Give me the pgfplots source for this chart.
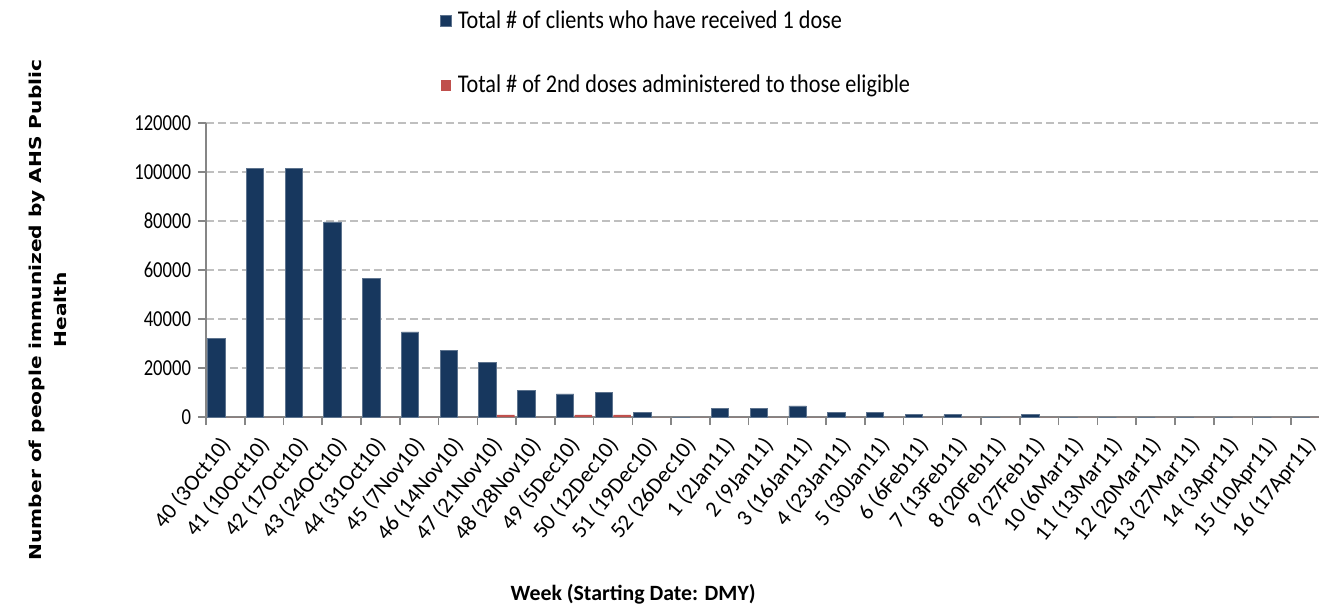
\documentclass[border=0pt]{standalone}
\usepackage{pgfplots}
\pgfplotsset{compat=1.18}
\usepackage{fontspec}
\setmainfont{Carlito}
\newfontfamily\ylabfont{DejaVu Sans}
\definecolor{navy}{HTML}{17375E}
\definecolor{redb}{HTML}{C0504D}
\definecolor{axgray}{HTML}{868686}
\begin{document}
\begin{tikzpicture}
\begin{axis}[
  scale only axis,
  width=562pt, height=147pt,
  ybar, bar width=0.45,
  xmin=-0.5, xmax=28.5,
  ymin=0, ymax=120000,
  scaled y ticks=false,
  ytick={0,20000,40000,60000,80000,100000,120000},
  yticklabels={0,20000,40000,60000,80000,100000,120000},
  yticklabel style={font=\fontsize{9.3}{11}\selectfont, yscale=1.23},
  xtick={0,...,28},
  xticklabels={40 (3Oct10),41 (10Oct10),42 (17Oct10),43 (24OCt10),44 (31Oct10),45 (7Nov10),46 (14Nov10),47 (21Nov10),48 (28Nov10),49 (5Dec10),50 (12Dec10),51 (19Dec10),52 (26Dec10),1 (2Jan11),2 (9Jan11),3 (16Jan11),4 (23Jan11),5 (30Jan11),6 (6Feb11),7 (13Feb11),8 (20Feb11),9 (27Feb11),10 (6Mar11),11 (13Mar11),12 (20Mar11),13 (27Mar11),14 (3Apr11),15 (10Apr11),16 (17Apr11)},
  xticklabel style={xshift=-3.5pt, yshift=-3.5pt, rotate=51, anchor=north east, font=\fontsize{11.2}{12}\selectfont, inner sep=1pt},
  minor xtick={-0.5,0.5,...,28.5},
  major x tick style={draw=none},
  minor x tick style={axgray, line width=0.8pt},
  minor tick length=4pt,
  y tick style={axgray, line width=0.8pt},
  major tick length=4pt,
  tick align=outside,
  axis x line*=bottom, axis y line*=left,
  axis line style={axgray, line width=0.8pt, -},
  ymajorgrids,
  major grid style={black!25, dash pattern=on 4pt off 2pt, line width=0.9pt},
  xlabel={Week (Starting Date: DMY)},
  xlabel style={font=\fontsize{10.9}{12}\selectfont\bfseries, at={(axis description cs:0.38,-0.604)}, anchor=center},
  ylabel={Number of people immunized by AHS Public\\Health},
  ylabel style={font=\ylabfont\fontsize{8.2}{12.5}\selectfont\bfseries, align=center, at={(axis description cs:-0.1406,0.364)}, anchor=center, xscale=1.23},
  legend style={at={(axis description cs:0.208,1.40)}, anchor=north west, draw=none, fill=none,
    font=\fontsize{11.1}{12}\selectfont, row sep=17pt, inner sep=0pt, nodes={yscale=1.15, inner xsep=3pt}},
  legend cell align=left,
  legend image code/.code={\fill[#1] (0pt,-2.7pt) rectangle (5.4pt,2.7pt);},
]
\addplot[fill=navy, draw=navy!70, bar shift=-0.235] coordinates {
(0,32000) (1,101300) (2,101300) (3,79600) (4,56700) (5,34700) (6,27300) (7,22400)
(8,11000) (9,9400) (10,10200) (11,2000) (12,0) (13,3500) (14,3500) (15,4500)
(16,1900) (17,1900) (18,1000) (19,1000) (20,0) (21,1000) (22,0) (23,0) (24,0) (25,0) (26,0) (27,0) (28,0)};
\addplot[fill=redb, draw=none, bar shift=0.235] coordinates {
(0,0) (1,0) (2,0) (3,0) (4,0) (5,0) (6,0) (7,900)
(8,0) (9,900) (10,900) (11,0) (12,0) (13,0) (14,0) (15,0)
(16,0) (17,0) (18,0) (19,0) (20,0) (21,0) (22,0) (23,0) (24,0) (25,0) (26,0) (27,0) (28,0)};
\legend{Total \# of clients who have received 1 dose, Total \# of 2nd doses administered to those eligible}
\coordinate (A) at (rel axis cs:0,0);
\coordinate (B) at (rel axis cs:1,1);
\end{axis}
\pgfresetboundingbox
\path[use as bounding box] ([xshift=-103pt,yshift=-95pt]A) rectangle ([xshift=-5.5pt,yshift=61.5pt]B);
\end{tikzpicture}
\end{document}
